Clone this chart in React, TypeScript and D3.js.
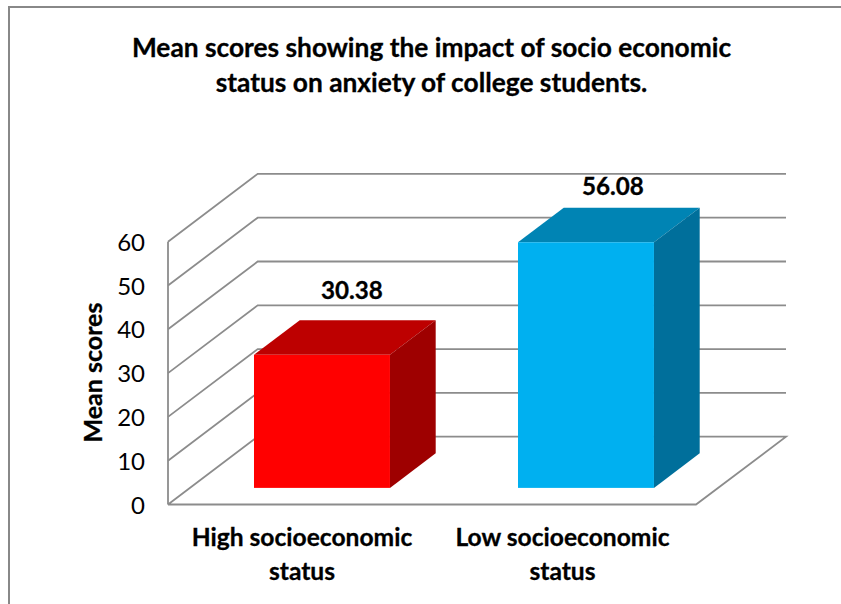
import React from "react";
import * as d3 from "d3";

const categories = [["High socioeconomic", "status"], ["Low socioeconomic", "status"]];
const values = [30.38, 56.08];
const valueLabels = ["30.38", "56.08"];
const ticks = [0, 10, 20, 30, 40, 50, 60];
const titleLines = ["Mean scores showing the impact of socio economic", "status on anxiety of college students."];
const faces = [
  { front: "#ff0000", top: "#bd0000", side: "#9e0000" },
  { front: "#00b0f0", top: "#0084b4", side: "#006f9b" },
];

const W = 841, H = 604;
const x0 = 168, x1 = 696, y0 = 504.5;
const floorDx = 89.7, floorDy = 67.8;
const barDepth = 0.51;
const grid = "#8c8c8c";
const font = "Lato, 'Noto Sans', sans-serif";
const labelShift = [{ x: 30, y: -56 }, { x: 27, y: -47.5 }];
const catShift = [2, -1.5];

export default function App() {
  const band = d3.scaleBand<number>().domain([0, 1]).range([x0, x1]).paddingInner(0.485).paddingOuter(0.2425);
  const h = d3.scaleLinear().domain([0, 60]).range([0, 262.8]);
  const dx = floorDx * barDepth, dy = floorDy * barDepth;
  const gapX = (floorDx - dx) / 2, gapY = (floorDy - dy) / 2;
  const poly = d3.line();
  return (
    <svg width={W} height={H} style={{ position: "absolute", left: 0, top: 0, background: "#fff" }} fontFamily={font}>
      <path d={`M9,${H} V7 H${W}`} fill="none" stroke="#888" strokeWidth={2} />
      {titleLines.map((t, i) => (
        <text key={t} x={431.5} y={56.5 + i * 35} textAnchor="middle" fontSize={26.3} fontWeight={700} stroke="#000" strokeWidth={0.3} fill="#000">{t}</text>
      ))}
      {ticks.map((t) => {
        const yf = y0 - h(t);
        const yb = yf - floorDy;
        const d = t === 0
          ? poly([[x0, yf], [x0 + floorDx, yb], [786, yb], [x1, yf], [x0, yf]])
          : poly([[x0, yf], [x0 + floorDx, yb], [786, yb]]);
        return (
          <g key={t}>
            <path d={d!} fill="none" stroke={grid} strokeWidth={1.8} />
            <text x={145} y={yf + 9} textAnchor="end" fontSize={24} fill="#000">{t}</text>
          </g>
        );
      })}
      <line x1={x0} x2={x0} y1={y0} y2={y0 - h(60)} stroke={grid} strokeWidth={1.8} />
      {values.map((v, i) => {
        const l = band(i)! + gapX, r = l + band.bandwidth();
        const b = y0 - gapY, t = b - h(v);
        return (
          <g key={i}>
            <path d={poly([[l, t], [r, t], [r + dx, t - dy], [l + dx, t - dy]])! + "Z"} fill={faces[i].top} />
            <path d={poly([[r, t], [r + dx, t - dy], [r + dx, b - dy], [r, b]])! + "Z"} fill={faces[i].side} />
            <rect x={l} y={t} width={r - l} height={b - t} fill={faces[i].front} />
            <text x={(l + r) / 2 + labelShift[i].x} y={t + labelShift[i].y} textAnchor="middle" fontSize={24.2} fontWeight={700} stroke="#000" strokeWidth={0.3} fill="#000">{valueLabels[i]}</text>
          </g>
        );
      })}
      {categories.map((lines, i) => (
        <g key={i}>
          {lines.map((s, j) => (
            <text key={s} x={band(i)! + band.bandwidth() / 2 + catShift[i]} y={546 + j * 33.5} textAnchor="middle" fontSize={24.6} fontWeight={700} stroke="#000" strokeWidth={0.3} fill="#000">{s}</text>
          ))}
        </g>
      ))}
      <text transform="translate(102,372.5) rotate(-90)" textAnchor="middle" fontSize={25} fontWeight={700} stroke="#000" strokeWidth={0.3} fill="#000">Mean scores</text>
    </svg>
  );
}
